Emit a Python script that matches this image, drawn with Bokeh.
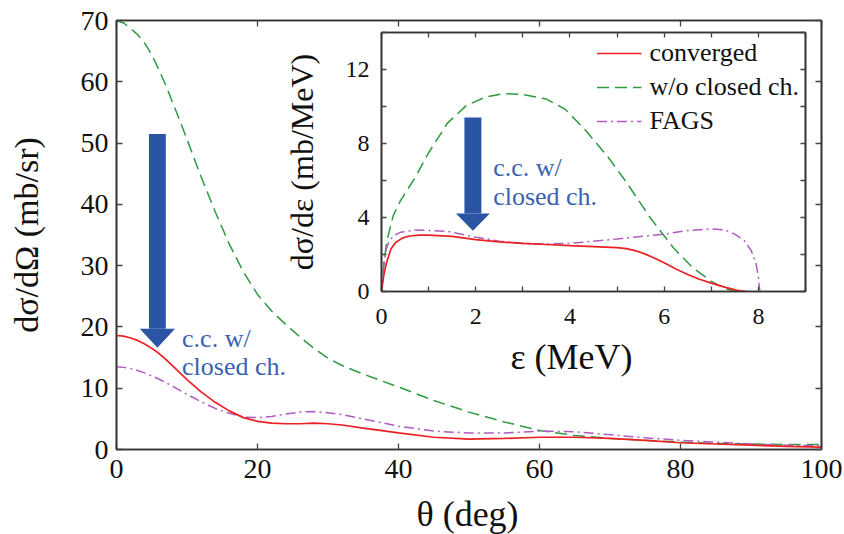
from bokeh.plotting import figure
from bokeh.models import (LinearAxis, FixedTicker, Label, Legend, LegendItem,
                          Range1d, CustomJSTickFormatter)
from bokeh.embed import file_html
from bokeh.resources import INLINE

FONT = "Liberation Serif"
RED = "#EC2024"
GREEN = "#2F9A40"
PURPLE = "#AE5CBE"
BLUE = "#2A55A5"
BLUE_TXT = "#3A62B0"

# ---------------- main panel data: dsigma/dOmega vs theta ----------------
theta = [0, 1, 2, 3, 4, 5, 6, 7, 8, 9, 10, 12, 14, 16, 18, 20, 22, 24, 26,
         28, 30, 32, 35, 40, 45, 50, 55, 60, 65, 70, 75, 80, 85, 90, 95, 100]
conv_main = [18.6, 18.5, 18.2, 17.8, 17.2, 16.5, 15.7, 14.7, 13.6, 12.5,
             11.4, 9.4, 7.7, 6.3, 5.2, 4.6, 4.3, 4.2, 4.2, 4.3, 4.2, 4.0,
             3.5, 2.7, 2.0, 1.7, 1.8, 2.0, 2.0, 1.8, 1.5, 1.1, 0.9, 0.7,
             0.5, 0.4]
woc_main = [70.0, 69.6, 68.7, 67.7, 66.3, 64.4, 62.0, 59.4, 56.5, 53.6, 50.6,
            44.5, 38.8, 33.5, 29.0, 25.3, 22.6, 20.4, 18.4, 16.5, 14.9, 13.7,
            12.3, 10.2, 8.0, 6.1, 4.5, 3.1, 2.3, 1.8, 1.5, 1.2, 1.0, 0.9,
            0.8, 0.8]
fags_main = [13.5, 13.4, 13.2, 12.9, 12.5, 12.0, 11.5, 10.9, 10.3, 9.65, 9.0,
             7.8, 6.7, 5.9, 5.3, 5.2, 5.4, 5.8, 6.1, 6.2, 6.0, 5.7, 5.0, 3.8,
             3.0, 2.7, 2.7, 3.0, 2.9, 2.4, 1.9, 1.5, 1.2, 0.9, 0.7, 0.6]
main_xticks = [0, 20, 40, 60, 80, 100]
main_yticks = [0, 10, 20, 30, 40, 50, 60, 70]
main_xlabel = "θ (deg)"
main_ylabel = "dσ/dΩ (mb/sr)"

# ---------------- inset data: dsigma/deps vs eps ----------------
eps_conv = [0, 0.05, 0.1, 0.2, 0.3, 0.45, 0.6, 0.8, 1.0, 1.5, 2.0, 2.5, 3.0,
            3.5, 4.0, 4.5, 5.0, 5.2, 5.4, 5.6, 5.8, 6.0, 6.25, 6.5, 6.75,
            7.0, 7.3, 7.55, 7.75]
conv_ins = [0, 0.9, 1.5, 2.3, 2.65, 2.9, 3.0, 3.05, 3.05, 2.98, 2.8, 2.68,
            2.6, 2.54, 2.48, 2.43, 2.37, 2.32, 2.2, 2.02, 1.8, 1.55, 1.22,
            0.92, 0.66, 0.45, 0.22, 0.06, 0.0]
eps_woc = [0, 0.05, 0.1, 0.15, 0.25, 0.4, 0.7, 1.0, 1.4, 1.8, 2.2, 2.6, 3.0,
           3.5, 3.9, 4.3, 4.8, 5.2, 5.7, 6.2, 6.6, 7.0, 7.3, 7.5]
woc_ins = [0, 1.5, 2.5, 3.1, 4.1, 4.9, 6.1, 7.5, 9.1, 10.05, 10.5, 10.7,
           10.65, 10.4, 9.85, 8.8, 7.3, 5.9, 4.0, 2.35, 1.3, 0.55, 0.15, 0.0]
eps_fags = [0, 0.05, 0.1, 0.15, 0.25, 0.4, 0.7, 1.0, 1.4, 2.0, 2.5, 3.0, 3.5,
            4.0, 4.5, 5.0, 5.5, 6.0, 6.5, 7.0, 7.3, 7.5, 7.7, 7.85, 7.95,
            8.0, 8.03]
fags_ins = [0, 1.5, 2.3, 2.65, 3.0, 3.2, 3.32, 3.3, 3.25, 2.93, 2.72, 2.6,
            2.57, 2.6, 2.72, 2.84, 2.97, 3.1, 3.3, 3.38, 3.32, 3.1, 2.75, 2.2,
            1.5, 0.8, 0.0]
ins_xticks = [0, 2, 4, 6, 8]
ins_xminor = [1, 3, 5, 7, 9]
ins_yticks = [0, 4, 8, 12]
ins_yminor = [2, 6, 10, 14]
ins_xlabel = "ε (MeV)"
ins_ylabel = "dσ/dε (mb/MeV)"

legend_labels = ["converged", "w/o closed ch.", "FAGS"]
note_lines = ["c.c. w/", "closed ch."]

BLANK = CustomJSTickFormatter(code="return ''")


def style_axis(ax, ticker, size, tick_len, show_labels=True):
    ax.ticker = ticker
    ax.major_tick_in = tick_len
    ax.major_tick_out = 0
    ax.minor_tick_in = tick_len
    ax.minor_tick_out = 0
    ax.major_tick_line_color = "#444444"
    ax.minor_tick_line_color = "#444444"
    ax.major_tick_line_width = 1.3
    ax.minor_tick_line_width = 1.3
    ax.axis_line_color = "#333333"
    ax.axis_line_width = 1.6
    ax.major_label_text_font = FONT
    ax.major_label_text_color = "#111111"
    ax.major_label_text_font_size = size
    ax.axis_label_text_font = FONT
    ax.axis_label_text_font_style = "normal"
    ax.axis_label_text_color = "#111111"
    if not show_labels:
        ax.formatter = BLANK
        ax.major_label_standoff = 0


# ================= main figure =================
p = figure(width=844, height=534, output_backend="svg", toolbar_location=None,
           x_range=Range1d(0, 100), y_range=Range1d(0, 70),
           min_border_left=116, min_border_right=23, min_border_top=20,
           min_border_bottom=85)
p.grid.visible = False
p.outline_line_color = "#333333"
p.outline_line_width = 1.6
p.background_fill_color = "white"
p.border_fill_color = "white"

style_axis(p.xaxis[0], FixedTicker(ticks=main_xticks), "28px", 6)
style_axis(p.yaxis[0], FixedTicker(ticks=main_yticks), "28px", 6)
p.yaxis[0].axis_label = main_ylabel
p.yaxis[0].axis_label_text_font_size = "34px"
p.xaxis[0].major_label_standoff = 10
p.yaxis[0].major_label_standoff = 8
p.yaxis[0].axis_label_standoff = 33

top_ax = LinearAxis()
style_axis(top_ax, FixedTicker(ticks=main_xticks), "0px", 6, show_labels=False)
p.add_layout(top_ax, "above")
right_ax = LinearAxis()
style_axis(right_ax, FixedTicker(ticks=main_yticks), "0px", 6, show_labels=False)
p.add_layout(right_ax, "right")

p.line(theta, woc_main, color=GREEN, line_width=1.5, line_dash="12 6")
p.line(theta, fags_main, color=PURPLE, line_width=1.5, line_dash="10 4 2 4")
p.line(theta, conv_main, color=RED, line_width=1.7)

# annotation arrow (main panel)
ax_m, top_m, head_m, tip_m = 5.8, 51.5, 19.7, 16.6
p.quad(left=[ax_m - 1.2], right=[ax_m + 1.2], bottom=[head_m], top=[top_m],
       color=BLUE, line_color=None)
p.patch([ax_m - 2.5, ax_m + 2.5, ax_m], [head_m, head_m, tip_m],
        color=BLUE, line_color=None)
p.add_layout(Label(x=9.3, y=18.1, text=note_lines[0], text_font=FONT,
                   text_font_size="26px", text_color=BLUE_TXT,
                   text_baseline="alphabetic"))
p.add_layout(Label(x=9.3, y=13.6, text=note_lines[1], text_font=FONT,
                   text_font_size="26px", text_color=BLUE_TXT,
                   text_baseline="alphabetic"))

# ================= inset figure =================
q = figure(width=554, height=365, output_backend="svg", toolbar_location=None,
           x_range=Range1d(0, 9), y_range=Range1d(0, 14),
           min_border_left=120, min_border_right=10, min_border_top=6,
           min_border_bottom=100)
q.grid.visible = False
q.outline_line_color = "#333333"
q.outline_line_width = 1.6
q.background_fill_color = "white"
q.border_fill_color = None
q.border_fill_alpha = 0

style_axis(q.xaxis[0], FixedTicker(ticks=ins_xticks, minor_ticks=ins_xminor), "24px", 5)
style_axis(q.yaxis[0], FixedTicker(ticks=ins_yticks, minor_ticks=ins_yminor), "24px", 5)
q.yaxis[0].axis_label = ins_ylabel
q.yaxis[0].axis_label_text_font_size = "32px"
q.xaxis[0].major_label_standoff = 17
q.yaxis[0].major_label_standoff = 12
q.yaxis[0].axis_label_standoff = 23

qt = LinearAxis()
style_axis(qt, FixedTicker(ticks=ins_xticks, minor_ticks=ins_xminor), "0px", 5, show_labels=False)
q.add_layout(qt, "above")
qr = LinearAxis()
style_axis(qr, FixedTicker(ticks=ins_yticks, minor_ticks=ins_yminor), "0px", 5, show_labels=False)
q.add_layout(qr, "right")

r_woc = q.line(eps_woc, woc_ins, color=GREEN, line_width=1.5, line_dash="12 6")
r_fags = q.line(eps_fags, fags_ins, color=PURPLE, line_width=1.5, line_dash="10 4 2 4")
r_conv = q.line(eps_conv, conv_ins, color=RED, line_width=1.7)

ax_i, top_i, head_i, tip_i = 1.94, 9.41, 4.21, 3.29
q.quad(left=[ax_i - 0.18], right=[ax_i + 0.18], bottom=[head_i], top=[top_i],
       color=BLUE, line_color=None)
q.patch([ax_i - 0.36, ax_i + 0.36, ax_i], [head_i, head_i, tip_i],
        color=BLUE, line_color=None)
q.add_layout(Label(x=2.37, y=6.7, text=note_lines[0], text_font=FONT,
                   text_font_size="26px", text_color=BLUE_TXT,
                   text_baseline="alphabetic"))
q.add_layout(Label(x=2.37, y=5.13, text=note_lines[1], text_font=FONT,
                   text_font_size="26px", text_color=BLUE_TXT,
                   text_baseline="alphabetic"))

legend = Legend(items=[LegendItem(label=legend_labels[0], renderers=[r_conv]),
                       LegendItem(label=legend_labels[1], renderers=[r_woc]),
                       LegendItem(label=legend_labels[2], renderers=[r_fags])],
                location="top_right")
legend.label_text_font = FONT
legend.label_text_font_size = "26px"
legend.label_text_color = "#111111"
legend.glyph_width = 45
legend.glyph_height = 30
legend.label_height = 30
legend.label_standoff = 8
legend.spacing = 4
legend.padding = 4
legend.margin = 6
legend.border_line_color = None
legend.background_fill_alpha = 0
q.add_layout(legend)

q.styles = {"position": "absolute", "left": "261px", "top": "26px"}

# ============ transparent overlay carrying the two x-axis titles ============
o = figure(width=844, height=234, output_backend="svg", toolbar_location=None,
           x_range=Range1d(0, 844), y_range=Range1d(534, 300),
           x_axis_location=None, y_axis_location=None,
           min_border=0)
o.grid.visible = False
o.outline_line_color = None
o.background_fill_alpha = 0
o.border_fill_alpha = 0
o.add_layout(Label(x=467, y=513, text=main_xlabel, text_font=FONT,
                   text_font_size="36px", text_color="#111111",
                   text_align="center", text_baseline="middle"))
o.add_layout(Label(x=571, y=356, text=ins_xlabel, text_font=FONT,
                   text_font_size="36px", text_color="#111111",
                   text_align="center", text_baseline="middle"))
o.styles = {"position": "absolute", "left": "0px", "top": "300px"}

# independent roots (no frame alignment between them)
open("out.html", "w").write(file_html([p, q, o], INLINE))
